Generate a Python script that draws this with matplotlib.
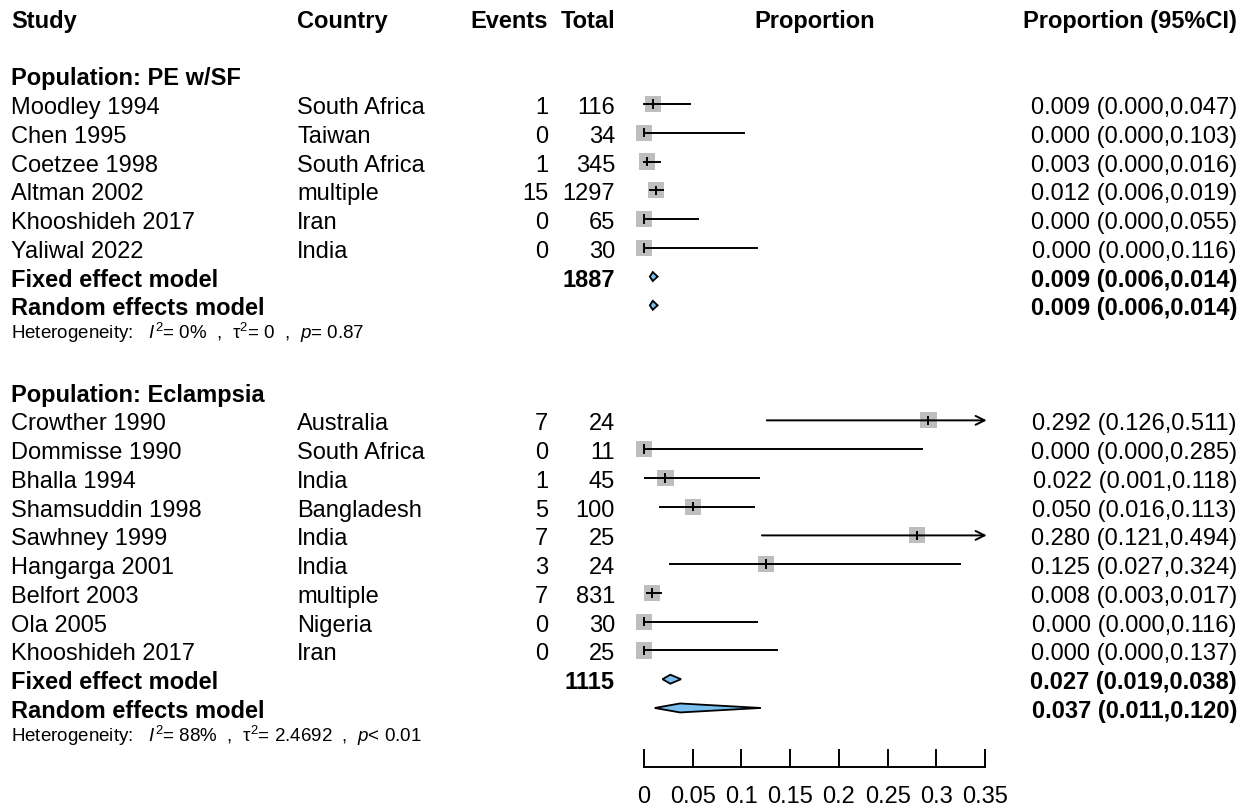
import matplotlib
matplotlib.use("Agg")
import matplotlib.pyplot as plt
from matplotlib.patches import Polygon

plt.rcParams['font.family'] = 'Liberation Sans'
plt.rcParams['mathtext.fontset'] = 'custom'
plt.rcParams['mathtext.rm'] = 'Liberation Sans'
plt.rcParams['mathtext.it'] = 'Liberation Sans:italic'
plt.rcParams['mathtext.bf'] = 'Liberation Sans:bold'

# dados - populacao PE w/SF
pe_study = ['Moodley 1994', 'Chen 1995', 'Coetzee 1998', 'Altman 2002',
            'Khooshideh 2017', 'Yaliwal 2022']
pe_country = ['South Africa', 'Taiwan', 'South Africa', 'multiple', 'Iran', 'India']
pe_events = [1, 0, 1, 15, 0, 0]
pe_total = [116, 34, 345, 1297, 65, 30]
pe_prop = [0.009, 0.000, 0.003, 0.012, 0.000, 0.000]
pe_lower = [0.000, 0.000, 0.000, 0.006, 0.000, 0.000]
pe_upper = [0.047, 0.103, 0.016, 0.019, 0.055, 0.116]
pe_fixed = [0.009, 0.006, 0.014]
pe_random = [0.009, 0.006, 0.014]
pe_sum_total = 1887
pe_het = (r"Heterogeneity:   $\mathit{I}^{2}$= 0%  ,  $\mathrm{\tau}^{2}$= 0  ,  "
          r"$\mathit{p}$= 0.87")

# dados - populacao Eclampsia
ec_study = ['Crowther 1990', 'Dommisse 1990', 'Bhalla 1994', 'Shamsuddin 1998',
            'Sawhney 1999', 'Hangarga 2001', 'Belfort 2003', 'Ola 2005', 'Khooshideh 2017']
ec_country = ['Australia', 'South Africa', 'India', 'Bangladesh', 'India', 'India',
              'multiple', 'Nigeria', 'Iran']
ec_events = [7, 0, 1, 5, 7, 3, 7, 0, 0]
ec_total = [24, 11, 45, 100, 25, 24, 831, 30, 25]
ec_prop = [0.292, 0.000, 0.022, 0.050, 0.280, 0.125, 0.008, 0.000, 0.000]
ec_lower = [0.126, 0.000, 0.001, 0.016, 0.121, 0.027, 0.003, 0.000, 0.000]
ec_upper = [0.511, 0.285, 0.118, 0.113, 0.494, 0.324, 0.017, 0.116, 0.137]
ec_fixed = [0.027, 0.019, 0.038]
ec_random = [0.037, 0.011, 0.120]
ec_sum_total = 1115
ec_het = (r"Heterogeneity:   $\mathit{I}^{2}$= 88%  ,  $\mathrm{\tau}^{2}$= 2.4692  ,  "
          r"$\mathit{p}$< 0.01")

ticks = [0, 0.05, 0.1, 0.15, 0.2, 0.25, 0.3, 0.35]
tick_labels = ['0', '0.05', '0.1', '0.15', '0.2', '0.25', '0.3', '0.35']

# geometria (pixels)
W, H = 1247, 808
row_px = 28.76
row0_px = 104
ytop = -row0_px / row_px
ybot = (H - row0_px) / row_px
x0_px, x1_px = 644, 985
xmax = 0.35

fig = plt.figure(figsize=(W / 100, H / 100), dpi=100)
ax = fig.add_axes([0, 0, 1, 1])
ax.set_xlim(0, W)
ax.set_ylim(ybot, ytop)
ax.axis('off')

fx = fig.add_axes([x0_px / W, 0, (x1_px - x0_px) / W, 1])
fx.set_xlim(0, xmax)
fx.set_ylim(ybot, ytop)
fx.axis('off')

fs = 17
fs_het = 13.5
col_study, col_country, col_events, col_total, col_ci = 11, 297, 548, 615, 1237
prop_center = (x0_px + x1_px) / 2
diamond_fill = '#7bbfee'
lw = 1.4
base_off = 10 / row_px   # baseline abaixo do centro da linha


def txt(x, y, s, ha='left', bold=False, size=fs, off=base_off):
    ax.text(x, y + off, s, ha=ha, va='baseline', fontsize=size,
            fontweight='bold' if bold else 'normal')


# cabecalho
txt(col_study, -3, 'Study', bold=True)
txt(col_country, -3, 'Country', bold=True)
txt(col_events, -3, 'Events', ha='right', bold=True)
txt(col_total, -3, 'Total', ha='right', bold=True)
txt(prop_center, -3, 'Proportion', ha='center', bold=True)
txt(col_ci, -3, 'Proportion (95%CI)', ha='right', bold=True)


def ci_str(p, lo, hi):
    return f"{p:.3f} ({lo:.3f},{hi:.3f})"


def diamond(row, est, lo, hi):
    h = 4.5 / row_px
    poly = Polygon([(lo, row), (est, row - h), (hi, row), (est, row + h)],
                   closed=True, facecolor=diamond_fill, edgecolor='black',
                   lw=1.3, zorder=4, clip_on=False)
    fx.add_patch(poly)


def group(base, heading, study, country, events, total, prop, lower, upper,
          fixed, random, sum_total, het):
    txt(col_study, base - 1, heading, bold=True)
    for i in range(len(study)):
        r = base + i
        txt(col_study, r, study[i])
        txt(col_country, r, country[i])
        txt(col_events, r, str(events[i]), ha='right')
        txt(col_total, r, str(total[i]), ha='right')
        txt(col_ci, r, ci_str(prop[i], lower[i], upper[i]), ha='right')
        fx.scatter([prop[i]], [r], marker='s', s=135, color='#bebebe',
                   edgecolors='none', zorder=2, clip_on=False)
        if upper[i] > xmax:
            fx.annotate('', xy=(xmax + 0.0017, r), xytext=(lower[i], r),
                        arrowprops=dict(arrowstyle='->', lw=lw, color='black',
                                        shrinkA=0, shrinkB=0, mutation_scale=16),
                        zorder=3, annotation_clip=False)
        else:
            fx.plot([lower[i], upper[i]], [r, r], color='black', lw=lw,
                    zorder=3, clip_on=False)
        fx.plot([prop[i], prop[i]], [r - 0.13, r + 0.13], color='black',
                lw=lw, zorder=3, clip_on=False)
    n = len(study)
    txt(col_study, base + n, 'Fixed effect model', bold=True)
    txt(col_total, base + n, str(sum_total), ha='right', bold=True)
    txt(col_ci, base + n, ci_str(*fixed), ha='right', bold=True)
    diamond(base + n, *fixed)
    txt(col_study, base + n + 1, 'Random effects model', bold=True)
    txt(col_ci, base + n + 1, ci_str(*random), ha='right', bold=True)
    diamond(base + n + 1, *random)
    txt(col_study, base + n + 2, het, size=fs_het, off=5 / row_px)


group(0, 'Population: PE w/SF', pe_study, pe_country, pe_events, pe_total,
      pe_prop, pe_lower, pe_upper, pe_fixed, pe_random, pe_sum_total, pe_het)
group(11, 'Population: Eclampsia', ec_study, ec_country, ec_events, ec_total,
      ec_prop, ec_lower, ec_upper, ec_fixed, ec_random, ec_sum_total, ec_het)

# eixo x
axis_row = (767 - row0_px) / row_px
tick_len = 17 / row_px
fx.plot([ticks[0], ticks[-1]], [axis_row, axis_row], color='black', lw=lw,
        clip_on=False)
for t, lab in zip(ticks, tick_labels):
    fx.plot([t, t], [axis_row, axis_row - tick_len], color='black', lw=lw,
            clip_on=False)
    fx.text(t, (803 - row0_px) / row_px, lab, ha='center', va='baseline',
            fontsize=fs)

fig.savefig('out.png', dpi=100)
